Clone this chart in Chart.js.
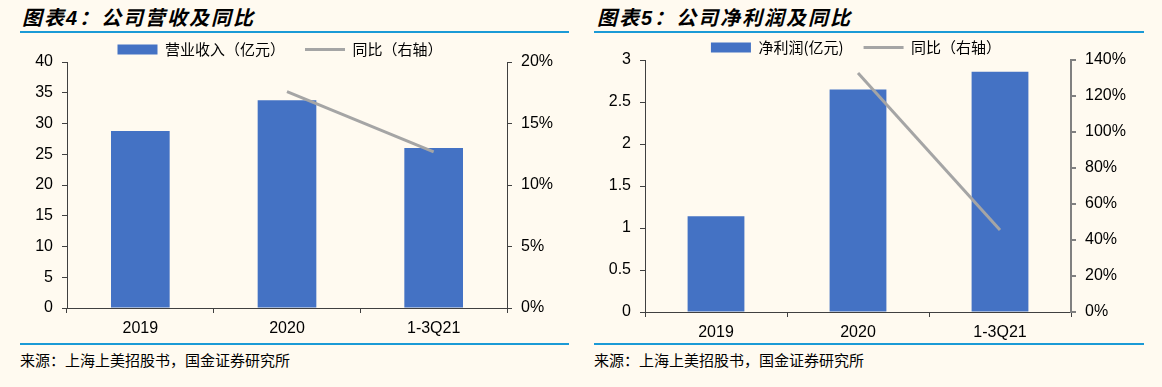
<!DOCTYPE html>
<html>
<head>
<meta charset="utf-8">
<script src="https://cdn.jsdelivr.net/npm/chart.js@4"></script>
<style>
  body { margin: 0; background: #fffaf0; width: 1162px; height: 387px; overflow: hidden; position: relative; }
  .title { position: absolute; top: 2px; font: italic bold 20px "Liberation Sans", "Noto Sans CJK SC", sans-serif; letter-spacing: 2px; color: #000; }
  .rule { position: absolute; height: 2px; background: #1b9ad6; }
  .src { position: absolute; top: 349px; font: 15px "Noto Sans CJK SC", sans-serif; color: #000; }
  .box { position: absolute; }
</style>
</head>
<body>
<div class="title" style="left:22px">图表4：公司营收及同比</div>
<div class="title" style="left:597px">图表5：公司净利润及同比</div>
<div class="rule" style="left:20px;width:549px;top:31px"></div>
<div class="rule" style="left:594px;width:550px;top:31px"></div>

<div class="box" style="left:0;top:22px;width:580px;height:318px"><canvas id="revChart"></canvas></div>
<div class="box" style="left:580px;top:20px;width:582px;height:320px"><canvas id="profitChart"></canvas></div>

<div class="rule" style="left:20px;width:549px;top:343px"></div>
<div class="rule" style="left:594px;width:550px;top:343px"></div>
<div class="src" style="left:20px">来源：上海上美招股书，国金证券研究所</div>
<div class="src" style="left:594px">来源：上海上美招股书，国金证券研究所</div>

<script>
// categories shared by both charts
const categories = ['2019', '2020', '1-3Q21'];

// 图表4: 营业收入 (亿元) + 同比 (%)
const revenue = [28.8, 33.8, 26.0];
const revenueYoY = [null, 17.6, 12.7];
const revenueAxis = [0, 40, 5];     // min, max, step
const revenueYoYAxis = [0, 20, 5];

// 图表5: 净利润 (亿元) + 同比 (%)
const profit = [1.14, 2.65, 2.86];
const profitYoY = [null, 132.8, 45.6];
const profitAxis = [0, 3, 0.5];
const profitYoYAxis = [0, 140, 20];

const tickFont = { family: '"Liberation Sans", Arial, sans-serif', size: 16 };
const legendFont = { family: '"Noto Sans CJK SC", sans-serif', size: 15 };

function makeChart(id, cfg) {
    const axisColor = '#404040';
    return new Chart(document.getElementById(id), {
        type: 'bar',
        data: {
            labels: categories,
            datasets: [{
                type: 'bar',
                label: cfg.barLabel,
                data: cfg.bars,
                backgroundColor: '#4472c4',
                borderWidth: 0,
                categoryPercentage: 1,
                barPercentage: 0.4,
                yAxisID: 'y',
                order: 1
            }, {
                type: 'line',
                label: '同比（右轴）',
                data: cfg.line,
                borderColor: '#a5a5a5',
                borderWidth: 3,
                pointRadius: 0,
                yAxisID: 'y1',
                order: 0
            }]
        },
        options: {
            animation: false,
            maintainAspectRatio: false,
            layout: { padding: { left: 0, right: cfg.padRight, top: 0, bottom: 0 } },
            plugins: {
                tooltip: { enabled: false },
                legend: {
                    position: 'top',
                    maxHeight: 40,
                    labels: {
                        usePointStyle: true,
                        pointStyleWidth: 40,
                        boxHeight: 10,
                        padding: 20,
                        color: '#000',
                        font: legendFont,
                        generateLabels(chart) {
                            const items = Chart.defaults.plugins.legend.labels.generateLabels(chart);
                            items.forEach(it => {
                                it.pointStyle = chart.data.datasets[it.datasetIndex].type === 'line' ? 'line' : 'rect';
                            });
                            return items.sort((a, b) => a.datasetIndex - b.datasetIndex);
                        }
                    }
                }
            },
            scales: {
                x: {
                    offset: true,
                    grid: { display: true, drawOnChartArea: false, offset: true, tickLength: 5, color: axisColor },
                    border: { color: axisColor },
                    ticks: { color: '#000', font: tickFont, padding: 6 },
                    afterFit: s => { s.height = cfg.bottom; }
                },
                y: {
                    position: 'left',
                    min: cfg.leftAxis[0], max: cfg.leftAxis[1],
                    grid: { display: true, drawOnChartArea: false, tickLength: 5, color: axisColor },
                    border: { color: axisColor },
                    ticks: { stepSize: cfg.leftAxis[2], color: '#000', font: tickFont, padding: 9, callback: v => String(v) },
                    afterFit: s => { s.width = cfg.leftWidth; }
                },
                y1: {
                    position: 'right',
                    min: cfg.rightAxis[0], max: cfg.rightAxis[1],
                    grid: { display: true, drawOnChartArea: false, tickLength: 5, color: cfg.rightColor || axisColor, lineWidth: cfg.rightLine || 1 },
                    border: { color: cfg.rightColor || axisColor, width: cfg.rightLine || 1 },
                    ticks: { stepSize: cfg.rightAxis[2], color: '#000', font: tickFont, padding: 9, callback: v => v + '%' },
                    afterFit: s => { s.width = cfg.rightWidth; }
                }
            }
        }
    });
}

makeChart('revChart', {
    barLabel: '营业收入（亿元）',
    bars: revenue, line: revenueYoY,
    leftAxis: revenueAxis, rightAxis: revenueYoYAxis,
    leftWidth: 67, rightWidth: 53, padRight: 20, bottom: 32
});

makeChart('profitChart', {
    barLabel: '净利润(亿元)',
    bars: profit, line: profitYoY,
    leftAxis: profitAxis, rightAxis: profitYoYAxis,
    leftWidth: 65, rightWidth: 61, padRight: 30, bottom: 28,
    rightColor: '#808080', rightLine: 2
});
</script>
</body>
</html>
